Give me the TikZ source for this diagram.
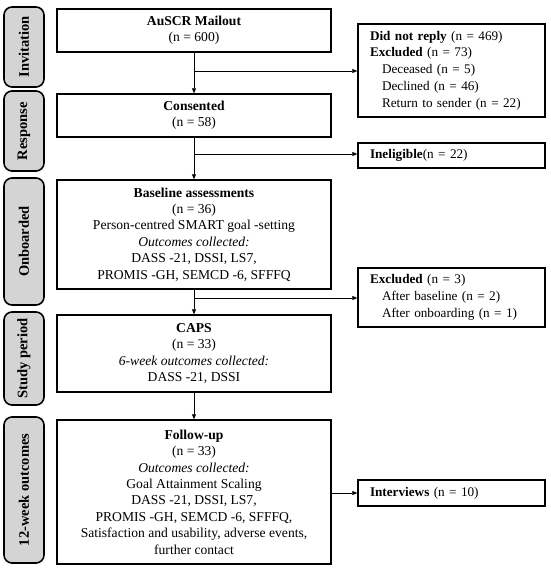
\documentclass[tikz,border=0pt]{standalone}
\usepackage{fontspec}
\setmainfont{Liberation Serif}
\usetikzlibrary{arrows.meta}

\begin{document}
\begin{tikzpicture}[x=1pt,y=-1pt,
    mainbox/.style={draw,line width=1.4pt,minimum width=274pt,align=center,inner sep=0pt,
        font=\fontsize{13.6}{16.4}\selectfont},
    sidebox/.style={draw,line width=1.4pt,text width=163pt,inner xsep=12pt,inner ysep=0pt,align=left,
        font=\fontsize{13.2}{16.8}\selectfont},
    stagebox/.style={draw,line width=1.6pt,rounded corners=8pt,fill=black!17,rotate=90,
        minimum height=40pt,inner sep=0pt,font=\fontsize{14.5}{16}\selectfont\bfseries},
    link/.style={line width=0.7pt,-{Triangle[length=5pt,width=4pt]}}]

    \useasboundingbox (0,0) rectangle (550,569);

    % stages
    \foreach \name/\y/\len/\txt in {inv/47/80/Invitation, resp/131/80/Response,
        onb/241.5/127/Onboarded, study/358.5/93/Study period, wk/490/146/12-week outcomes}
    {
        \node[stagebox,minimum width=\len pt] (\name) at (24,\y) {\txt};
    }

    % main flow
    \node[mainbox,minimum height=43pt] (mail) at (194,30.5)
        {\textbf{AuSCR Mailout}\\(n = 600)};
    \node[mainbox,minimum height=43pt] (consent) at (194,115.5)
        {\textbf{Consented}\\(n = 58)};
    \node[mainbox,minimum height=109pt] (base) at (194,234.5)
        {\textbf{Baseline assessments}\\(n = 36)\\Person-centred SMART goal -setting\\
         \textit{Outcomes collected:}\\DASS -21, DSSI, LS7,\\PROMIS -GH, SEMCD -6, SFFFQ};
    \node[mainbox,minimum height=77pt] (caps) at (194,353.5)
        {\textbf{CAPS}\\(n = 33)\\\textit{6-week outcomes collected:}\\DASS -21, DSSI};
    \node[mainbox,minimum height=144pt] (follow) at (194,492)
        {\textbf{Follow-up}\\(n = 33)\\\textit{Outcomes collected:}\\Goal Attainment Scaling\\
         DASS -21, DSSI, LS7,\\PROMIS -GH, SEMCD -6, SFFFQ,\\
         Satisfaction and usability, adverse events,\\further contact};

    % side boxes
    \node[sidebox,minimum height=93pt] (drop) at (451.5,70.5)
        {\textbf{Did not reply} (n = 469)\\\textbf{Excluded} (n = 73)\\
         \hspace*{12pt}Deceased (n = 5)\\\hspace*{12pt}Declined (n = 46)\\
         \hspace*{12pt}Return to sender (n = 22)};
    \node[sidebox,minimum height=25pt] (inel) at (451.5,155.5)
        {\textbf{Ineligible}(n = 22)};
    \node[sidebox,minimum height=59pt] (excl) at (451.5,297.5)
        {\textbf{Excluded} (n = 3)\\\hspace*{12pt}After baseline (n = 2)\\
         \hspace*{12pt}After onboarding (n = 1)};
    \node[sidebox,minimum height=26pt] (interv) at (451.5,493)
        {\textbf{Interviews} (n = 10)};

    % arrows
    \draw[link] (mail) -- (consent);
    \draw[link] (consent) -- (base);
    \draw[link] (base) -- (caps);
    \draw[link] (caps) -- (follow);

    \coordinate (m1) at (194,71);
    \coordinate (c1) at (194,154);
    \coordinate (b1) at (194,298);
    \draw[link] (m1) -- (m1 -| drop.west);
    \draw[link] (c1) -- (c1 -| inel.west);
    \draw[link] (b1) -- (b1 -| excl.west);
    \draw[link] (follow.east |- interv.west) -- (interv.west);

\end{tikzpicture}
\end{document}
